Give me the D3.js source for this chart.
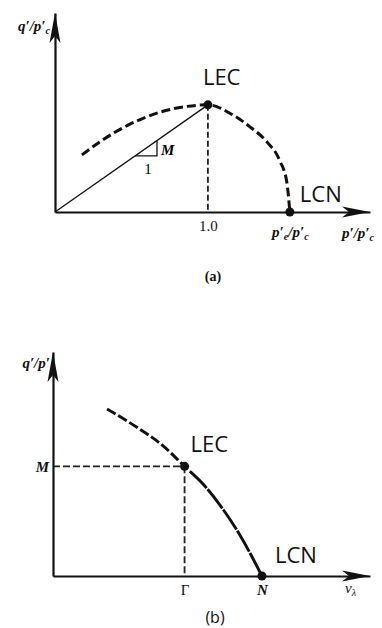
<!DOCTYPE html>
<html>
<head>
<meta charset="utf-8">
<script src="https://cdn.jsdelivr.net/npm/d3@7"></script>
<style>
  body { margin: 0; background: #fff; }
  svg { display: block; }
  .serif { font-family: "Liberation Serif", "DejaVu Serif", serif; }
  .sans  { font-family: "Open Sans", "Liberation Sans", sans-serif; }
</style>
</head>
<body>
<svg id="chart" width="382" height="628"></svg>
<script>
// ---- Panel (a): yield curve in q'/p'c – p'/p'c space ----
const slopeM = 0.70;                 // critical state stress ratio M
const pePc = 1.536;                  // p'e / p'c where the curve meets the axis
const ticksA = [1.0, pePc];
const curveA_p = [0.176, 0.294, 0.471, 0.686, 0.863, 1.0, 1.163, 1.275, 1.386, 1.471, 1.516, 1.536];
const curveA_q = [0.373, 0.459, 0.564, 0.652, 0.690, 0.70, 0.634, 0.556, 0.458, 0.333, 0.195, 0];
const slopeRun = [0.523, 0.667];     // horizontal leg of the slope triangle

// ---- Panel (b): q'/p' against v_lambda ----
const gammaV = 0.855;                // Γ
const nV = 1.358;                    // N
const curveB_v   = [0.351, 0.552, 0.708, 0.855, 0.975, 1.085, 1.196, 1.280, 1.358];
const curveB_eta = [1.066, 0.945, 0.837, 0.70, 0.587, 0.453, 0.291, 0.147, 0];

const svg = d3.select("#chart");
svg.append("rect").attr("width", 382).attr("height", 628).attr("fill", "#fff");

function arrowRight(g, x, y) {
  g.append("path")
    .attr("d", `M${x},${y} L${x - 28},${y - 5.5} L${x - 21},${y} L${x - 28},${y + 5.5} Z`)
    .attr("fill", "#111");
}
function arrowUp(g, x, y) {
  g.append("path")
    .attr("d", `M${x},${y} L${x - 5.5},${y + 30} L${x},${y + 23} L${x + 5.5},${y + 30} Z`)
    .attr("fill", "#111");
}
function styleAxis(sel) {
  sel.select(".domain").attr("stroke", "#111").attr("stroke-width", 2.2);
  sel.selectAll(".tick line").remove();
  sel.selectAll(".tick text").attr("fill", "#111");
}
// dash pattern that switches style at a given length along a path
function splitDash(node, splitLen, first, second) {
  const total = node.getTotalLength();
  const parts = [];
  let run = 0, k = 0;
  while (run < splitLen) { const v = first[k % 2]; parts.push(v); run += v; k++; }
  if (k % 2 === 1) { parts.push(first[1]); run += first[1]; }
  k = 0;
  while (run < total + 40) { const v = second[k % 2]; parts.push(v); run += v; k++; }
  return parts.join(",");
}
function lengthAtX(node, targetX) {
  let lo = 0, hi = node.getTotalLength();
  for (let i = 0; i < 40; i++) {
    const mid = (lo + hi) / 2;
    if (node.getPointAtLength(mid).x < targetX) lo = mid; else hi = mid;
  }
  return lo;
}

// ================= Panel (a) =================
{
  const x = d3.scaleLinear([0, 2.06], [55, 370]);
  const y = d3.scaleLinear([0, 1.30], [212, 13]);
  const g = svg.append("g");

  // vertical dashed line through the peak
  g.append("line")
    .attr("x1", x(1.0)).attr("x2", x(1.0))
    .attr("y1", y(slopeM)).attr("y2", y(0))
    .attr("stroke", "#222").attr("stroke-width", 1.8).attr("stroke-dasharray", "6,3");

  // x axis
  const ax = g.append("g").attr("transform", `translate(0,${y(0)})`)
    .call(d3.axisBottom(x).tickValues(ticksA).tickSize(0).tickSizeOuter(0).tickPadding(8))
    .call(styleAxis);
  ax.selectAll(".tick text").attr("class", "serif").attr("font-size", 15)
    .each(function (d, i) {
      const t = d3.select(this).text(null);
      if (i === 0) {
        t.text(d3.format(".1f")(d));
      } else {
        t.attr("font-style", "italic").attr("font-weight", "bold").attr("dy", "1.15em");
        t.append("tspan").text("p′");
        t.append("tspan").attr("font-size", 10).attr("dy", 3).text("e");
        t.append("tspan").attr("dy", -3).text("/p′");
        t.append("tspan").attr("font-size", 10).attr("dy", 3).text("c");
      }
    });
  // y axis
  g.append("g").attr("transform", `translate(${x(0)},0)`)
    .call(d3.axisLeft(y).tickValues([]).tickSize(0).tickSizeOuter(0))
    .call(styleAxis);

  arrowRight(g, x(2.06), y(0));
  arrowUp(g, x(0), y(1.30));

  // line of slope M through the origin
  g.append("line")
    .attr("x1", x(0)).attr("y1", y(0))
    .attr("x2", x(1.0)).attr("y2", y(slopeM))
    .attr("stroke", "#111").attr("stroke-width", 1.3);

  // slope triangle
  g.append("path")
    .attr("d", `M${x(slopeRun[0])},${y(slopeM * slopeRun[0])} L${x(slopeRun[1])},${y(slopeM * slopeRun[0])} L${x(slopeRun[1])},${y(slopeM * slopeRun[1])}`)
    .attr("fill", "none").attr("stroke", "#111").attr("stroke-width", 1.3);
  g.append("text").attr("class", "serif").attr("font-style", "italic").attr("font-weight", "bold")
    .attr("font-size", 15).attr("x", x(slopeRun[1]) + 4).attr("y", y(slopeM * slopeRun[0]) - 1).text("M");
  g.append("text").attr("class", "serif").attr("font-size", 15).attr("text-anchor", "middle")
    .attr("x", (x(slopeRun[0]) + x(slopeRun[1])) / 2 + 2).attr("y", y(slopeM * slopeRun[0]) + 18).text("1");

  // yield curve
  const ptsA = curveA_p.map((p, i) => [p, curveA_q[i]]);
  g.append("path")
    .attr("d", d3.line().x(d => x(d[0])).y(d => y(d[1])).curve(d3.curveMonotoneX)(ptsA))
    .attr("fill", "none").attr("stroke", "#111").attr("stroke-width", 3)
    .attr("stroke-dasharray", "9,4");

  // key points
  g.append("circle").attr("cx", x(1.0)).attr("cy", y(slopeM)).attr("r", 4.5).attr("fill", "#111");
  g.append("circle").attr("cx", x(pePc)).attr("cy", y(0)).attr("r", 4.5).attr("fill", "#111");

  g.append("text").attr("class", "sans").attr("font-size", 22)
    .attr("x", x(1.0) - 5).attr("y", y(slopeM) - 20).attr("fill", "#111").text("LEC");
  g.append("text").attr("class", "sans").attr("font-size", 22)
    .attr("x", x(pePc) + 10).attr("y", y(0) - 10).attr("fill", "#111").text("LCN");

  // axis titles
  const yl = g.append("text").attr("class", "serif").attr("font-style", "italic").attr("font-weight", "bold")
    .attr("font-size", 15).attr("text-anchor", "end").attr("x", 50).attr("y", 31).attr("fill", "#111");
  yl.append("tspan").text("q′/p′");
  yl.append("tspan").attr("font-size", 10).attr("dy", 3).text("c");

  const xl = g.append("text").attr("class", "serif").attr("font-style", "italic").attr("font-weight", "bold")
    .attr("font-size", 15).attr("text-anchor", "middle").attr("x", 358).attr("y", 238).attr("fill", "#111");
  xl.append("tspan").text("p′/p′");
  xl.append("tspan").attr("font-size", 10).attr("dy", 3).text("c");

  g.append("text").attr("class", "serif").attr("font-weight", "bold").attr("font-size", 14)
    .attr("text-anchor", "middle").attr("x", 213).attr("y", 281).attr("fill", "#111").text("(a)");
}

// ================= Panel (b) =================
{
  const x = d3.scaleLinear([0, 2.06], [53, 370]);
  const y = d3.scaleLinear([0, 1.43], [576, 352]);
  const g = svg.append("g");

  // dashed guides to the LEC point
  g.append("line")
    .attr("x1", x(0)).attr("x2", x(gammaV))
    .attr("y1", y(slopeM)).attr("y2", y(slopeM))
    .attr("stroke", "#222").attr("stroke-width", 1.8).attr("stroke-dasharray", "7,3");
  g.append("line")
    .attr("x1", x(gammaV)).attr("x2", x(gammaV))
    .attr("y1", y(slopeM)).attr("y2", y(0))
    .attr("stroke", "#222").attr("stroke-width", 1.8).attr("stroke-dasharray", "7,3");

  const ax = g.append("g").attr("transform", `translate(0,${y(0)})`)
    .call(d3.axisBottom(x).tickValues([gammaV, nV]).tickSize(0).tickSizeOuter(0).tickPadding(8)
      .tickFormat((d, i) => i === 0 ? "Γ" : "N"))
    .call(styleAxis);
  ax.selectAll(".tick text").attr("class", "serif").attr("font-size", 15)
    .attr("font-style", (d, i) => i === 0 ? "normal" : "italic")
    .attr("font-weight", (d, i) => i === 0 ? "normal" : "bold");

  const ay = g.append("g").attr("transform", `translate(${x(0)},0)`)
    .call(d3.axisLeft(y).tickValues([slopeM]).tickSize(0).tickSizeOuter(0).tickPadding(4)
      .tickFormat(() => "M"))
    .call(styleAxis);
  ay.selectAll(".tick text").attr("class", "serif").attr("font-size", 15)
    .attr("font-style", "italic").attr("font-weight", "bold");

  arrowRight(g, x(2.06), y(0));
  arrowUp(g, x(0), y(1.43));

  // curve: dashed above LEC, near-solid below
  const ptsB = curveB_v.map((v, i) => [v, curveB_eta[i]]);
  const lineB = d3.line().x(d => x(d[0])).y(d => y(d[1])).curve(d3.curveMonotoneX);
  const curveB = g.append("path").attr("d", lineB(ptsB))
    .attr("fill", "none").attr("stroke", "#111").attr("stroke-width", 2.9);
  const node = curveB.node();
  curveB.attr("stroke-dasharray",
    splitDash(node, lengthAtX(node, x(gammaV)), [10, 3], [24, 1.5]));

  g.append("circle").attr("cx", x(gammaV)).attr("cy", y(slopeM)).attr("r", 4.5).attr("fill", "#111");
  g.append("circle").attr("cx", x(nV)).attr("cy", y(0)).attr("r", 4.5).attr("fill", "#111");

  g.append("text").attr("class", "sans").attr("font-size", 22)
    .attr("x", x(gammaV) + 6).attr("y", y(slopeM) - 14).attr("fill", "#111").text("LEC");
  g.append("text").attr("class", "sans").attr("font-size", 22)
    .attr("x", x(nV) + 13).attr("y", y(0) - 13).attr("fill", "#111").text("LCN");

  g.append("text").attr("class", "serif").attr("font-style", "italic").attr("font-weight", "bold")
    .attr("font-size", 15).attr("text-anchor", "end").attr("x", 50).attr("y", 368).attr("fill", "#111")
    .text("q′/p′");

  const vl = g.append("text").attr("class", "serif").attr("font-style", "italic")
    .attr("font-size", 15).attr("x", 345).attr("y", 593).attr("fill", "#111");
  vl.append("tspan").text("v");
  vl.append("tspan").attr("font-size", 10).attr("dy", 3).text("λ");

  g.append("text").attr("class", "sans").attr("font-size", 16)
    .attr("text-anchor", "middle").attr("x", 215).attr("y", 623).attr("fill", "#111").text("(b)");
}
</script>
</body>
</html>
